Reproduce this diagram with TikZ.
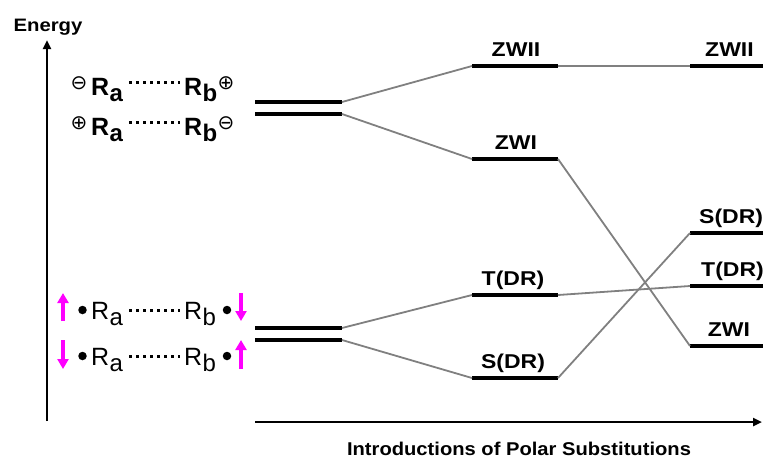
\documentclass[tikz,border=0pt]{standalone}
\usepackage{graphicx}
\usepackage{fontspec}
\setmainfont{Liberation Sans}
\newfontfamily\symfont{DejaVu Sans}
\usetikzlibrary{arrows.meta}
\definecolor{spinpink}{RGB}{255,0,255}
% horizontally widened text
\newcommand{\widetext}[2]{\scalebox{#1}[1]{#2}}
\begin{document}
\begin{tikzpicture}[x=1pt,y=-1pt,
  level/.style={line width=4pt},
  link/.style={line width=1.8pt,draw=black!50},
  lvllabel/.style={font=\bfseries\fontsize{20}{20}\selectfont,anchor=base,inner sep=0pt},
  axis/.style={line width=2.6pt,-{Triangle[length=9pt,width=8pt]}},
  spin/.style={line width=4pt,draw=spinpink,-{Triangle[length=10pt,width=11pt]}},
  bigR/.style={font=\fontsize{25}{25}\selectfont,anchor=base west,inner sep=0pt},
  sub/.style={font=\fontsize{24}{24}\selectfont,anchor=base west,inner sep=0pt},
  chg/.style={font=\symfont\fontsize{20}{20}\selectfont,inner sep=0pt},
  radical/.style={circle,fill=black,inner sep=0pt,minimum size=8.5pt},
  dotted line/.style={line width=3pt,dash pattern=on 3pt off 4pt}]
\useasboundingbox (0,0) rectangle (763,459);

% axes
\coordinate (ybot) at (47,421);
\coordinate (ytop) at (47,40);
\draw[axis] (ybot) -- (ytop);
\node[font=\bfseries\fontsize{18}{18}\selectfont,anchor=base,inner sep=0pt] (elabel) at (48,31) {\widetext{1.13}{Energy}};
\coordinate (xl) at (255,422);
\coordinate (xr) at (762,422);
\draw[axis] (xl) -- (xr);
\node[font=\bfseries\fontsize{18.5}{18.5}\selectfont,anchor=base,inner sep=0pt] (xlabel) at (519,455.5) {\widetext{1.09}{Introductions of Polar Substitutions}};

% left levels
\coordinate (ua1) at (255,102); \coordinate (ua2) at (342,102);
\coordinate (ub1) at (255,114); \coordinate (ub2) at (342,114);
\coordinate (la1) at (255,328); \coordinate (la2) at (342,328);
\coordinate (lb1) at (255,340); \coordinate (lb2) at (342,340);
\foreach \a/\b in {ua1/ua2,ub1/ub2,la1/la2,lb1/lb2} \draw[level] (\a) -- (\b);

% middle levels
\coordinate (zw2a) at (472,66);  \coordinate (zw2b) at (558,66);
\coordinate (zw1a) at (472,159); \coordinate (zw1b) at (558,159);
\coordinate (tdra) at (472,295); \coordinate (tdrb) at (558,295);
\coordinate (sdra) at (472,378); \coordinate (sdrb) at (558,378);
\foreach \a/\b in {zw2a/zw2b,zw1a/zw1b,tdra/tdrb,sdra/sdrb} \draw[level] (\a) -- (\b);
\node[lvllabel] (lzw2) at (516,56) {\widetext{1.15}{ZWII}};
\node[lvllabel] (lzw1) at (516,149) {\widetext{1.15}{ZWI}};
\node[lvllabel] (ltdr) at (513,285) {\widetext{1.15}{T(DR)}};
\node[lvllabel] (lsdr) at (513,368) {\widetext{1.15}{S(DR)}};

% right levels
\coordinate (rzw2a) at (690,66);  \coordinate (rzw2b) at (763,66);
\coordinate (rsdra) at (690,233); \coordinate (rsdrb) at (763,233);
\coordinate (rtdra) at (690,286); \coordinate (rtdrb) at (763,286);
\coordinate (rzw1a) at (690,346); \coordinate (rzw1b) at (763,346);
\foreach \a/\b in {rzw2a/rzw2b,rsdra/rsdrb,rtdra/rtdrb,rzw1a/rzw1b} \draw[level] (\a) -- (\b);
\node[lvllabel,anchor=base west] (rlzw2) at (705,56) {\widetext{1.15}{ZWII}};
\node[lvllabel,anchor=base west] (rlsdr) at (699,223) {\widetext{1.15}{S(DR)}};
\node[lvllabel,anchor=base west] (rltdr) at (701,276) {\widetext{1.15}{T(DR)}};
\node[lvllabel] (rlzw1) at (729,336) {\widetext{1.15}{ZWI}};

% correlation lines
\draw[link] (ua2) -- (zw2a);
\draw[link] (ub2) -- (zw1a);
\draw[link] (la2) -- (tdra);
\draw[link] (lb2) -- (sdra);
\draw[link] (zw2b) -- (rzw2a);
\draw[link] (zw1b) -- (rzw1a);
\draw[link] (tdrb) -- (rtdra);
\draw[link] (sdrb) -- (rsdra);

% zwitterionic configurations
\foreach \y/\cl/\cr [count=\i] in {95/⊖/⊕,135/⊕/⊖}{
  \node[chg] (zcl\i) at (79,\y-12) {\cl};
  \node[bigR,font=\bfseries\fontsize{25}{25}\selectfont] (zra\i) at (91,\y) {R};
  \node[sub,font=\bfseries\fontsize{24}{24}\selectfont] (zsa\i) at (zra\i.base east) [yshift=-6pt] {a};
  \coordinate (zd1\i) at (129,\y-13);
  \coordinate (zd2\i) at (180,\y-13);
  \draw[dotted line] (zd1\i) -- (zd2\i);
  \node[bigR,font=\bfseries\fontsize{25}{25}\selectfont] (zrb\i) at (184,\y) {R};
  \node[sub,font=\bfseries\fontsize{24}{24}\selectfont] (zsb\i) at (zrb\i.base east) [yshift=-6pt] {b};
  \node[chg] (zcr\i) at (226,\y-12) {\cr};
}

% diradical configurations
\foreach \y/\la/\lb/\ra/\rb [count=\i] in {319/321/293/293/321,365/340/369/369/340}{
  \coordinate (sl1\i) at (63,\la); \coordinate (sl2\i) at (63,\lb);
  \draw[spin] (sl1\i) -- (sl2\i);
  \node[radical] (bl\i) at (82.5,\y-9) {};
  \node[bigR] (dra\i) at (91,\y) {R};
  \node[sub] (dsa\i) at (dra\i.base east) [yshift=-6pt] {a};
  \coordinate (dd1\i) at (129,\y-9);
  \coordinate (dd2\i) at (180,\y-9);
  \draw[dotted line] (dd1\i) -- (dd2\i);
  \node[bigR] (drb\i) at (184,\y) {R};
  \node[sub] (dsb\i) at (drb\i.base east) [yshift=-6pt] {b};
  \node[radical] (br\i) at (227,\y-9) {};
  \coordinate (sr1\i) at (241,\ra); \coordinate (sr2\i) at (241,\rb);
  \draw[spin] (sr1\i) -- (sr2\i);
}
\end{tikzpicture}
\end{document}
